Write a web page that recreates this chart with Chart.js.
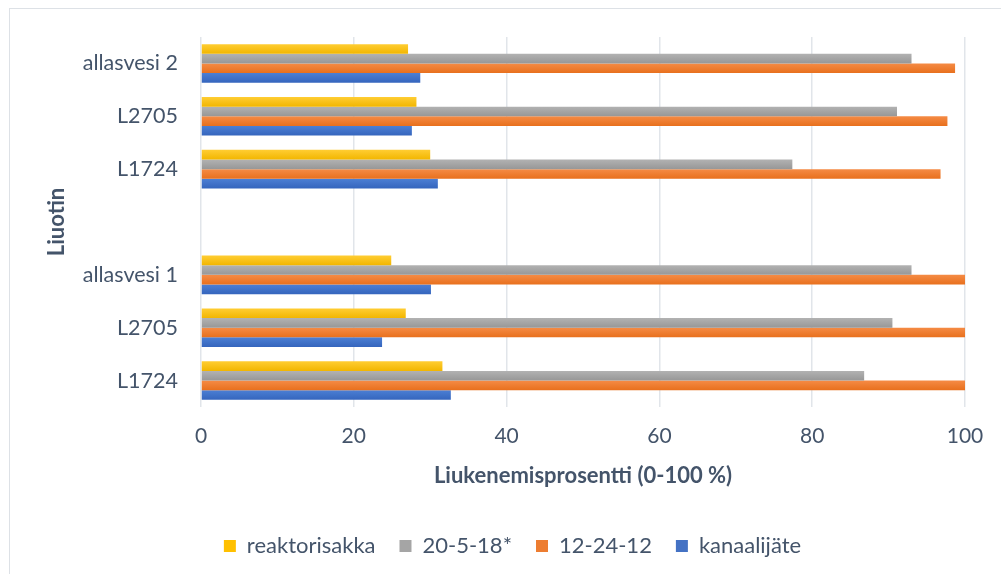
<!DOCTYPE html>
<html>
<head>
<meta charset="utf-8">
<script src="https://cdn.jsdelivr.net/npm/chart.js@4.4.1/dist/chart.umd.min.js"></script>
<style>
  html, body { margin: 0; padding: 0; background: #ffffff; }
  #wrap { position: relative; width: 1001px; height: 574px; overflow: hidden; }
  #frame { position: absolute; left: 9px; top: 8px; width: 1100px; height: 700px;
           border: 1.5px solid #dde1e6; box-sizing: border-box; }
  canvas { position: absolute; left: 0; top: 0; }
</style>
</head>
<body>
<div id="wrap">
  <div id="frame"></div>
  <canvas id="c" width="1001" height="574"></canvas>
</div>
<script>
const categories = ['allasvesi 2', 'L2705', 'L1724', '', 'allasvesi 1', 'L2705', 'L1724'];
const seriesNames = ['reaktorisakka', '20-5-18*', '12-24-12', 'kanaalijäte'];
const reaktorisakka = [27.1, 28.2, 30.0, null, 24.9, 26.8, 31.6];
const s20_5_18 = [93.0, 91.1, 77.4, null, 93.0, 90.5, 86.8];
const s12_24_12 = [98.7, 97.7, 96.8, null, 100, 100, 100];
const kanaalijate = [28.7, 27.6, 31.0, null, 30.1, 23.7, 32.7];
const xTicks = [0, 20, 40, 60, 80, 100];

const seriesValues = [reaktorisakka, s20_5_18, s12_24_12, kanaalijate];
const solid = ['#ffc000', '#a5a5a5', '#ed7d31', '#4472c4'];
const gradTop = ['#ffcd33', '#b2b2b2', '#f58b45', '#4c7fd4'];
const gradBot = ['#f2b600', '#979797', '#e8701d', '#3565bd'];
const CAT_PCT = 0.73;
const TEXT = '#44546a';
const FONT = 'Lato, "Open Sans", sans-serif';

function barFill(di) {
  return function (ctx) {
    const chart = ctx.chart;
    const ys = chart.scales && chart.scales.y;
    if (!ys || ctx.type !== 'data' || !ys.height) return solid[di];
    const center = ys.getPixelForValue(ctx.dataIndex);
    const catH = ys.height / categories.length;
    const groupH = catH * CAT_PCT;
    const barH = groupH / seriesNames.length;
    const top = center - groupH / 2 + di * barH;
    const g = chart.ctx.createLinearGradient(0, top, 0, top + barH);
    g.addColorStop(0, gradTop[di]);
    g.addColorStop(1, gradBot[di]);
    return g;
  };
}

const datasets = seriesNames.map((name, i) => ({
  label: name,
  data: seriesValues[i],
  backgroundColor: barFill(i),
  borderWidth: 0,
  categoryPercentage: CAT_PCT,
  barPercentage: 1.0
}));

const shiftLegend = {
  id: 'shiftLegend',
  afterLayout(chart) {
    const lg = chart.legend;
    if (lg) { lg.left += 25; lg.right += 25; }
  }
};

new Chart(document.getElementById('c'), {
  type: 'bar',
  data: { labels: categories, datasets: datasets },
  plugins: [shiftLegend],
  options: {
    indexAxis: 'y',
    responsive: false,
    animation: false,
    layout: { padding: { top: 37, right: 36, left: 10, bottom: 7 } },
    plugins: {
      tooltip: { enabled: false },
      legend: {
        position: 'bottom',
        labels: {
          boxWidth: 12,
          boxHeight: 12,
          padding: 24,
          color: TEXT,
          font: { family: FONT, size: 22 },
          generateLabels(chart) {
            return chart.data.datasets.map((ds, i) => ({
              text: ds.label,
              fillStyle: solid[i],
              strokeStyle: solid[i],
              lineWidth: 0,
              hidden: false,
              datasetIndex: i,
              fontColor: TEXT
            }));
          }
        }
      }
    },
    scales: {
      x: {
        min: 0,
        max: 100,
        afterBuildTicks(scale) { scale.ticks = xTicks.map(v => ({ value: v })); },
        afterFit(scale) { scale.height = 104; },
        grid: { color: '#e1e5ea', lineWidth: 1.5, drawTicks: false },
        border: { display: false },
        ticks: { padding: 17, color: TEXT, font: { family: FONT, size: 21 } },
        title: {
          display: true,
          text: 'Liukenemisprosentti (0-100 %)',
          color: TEXT,
          font: { family: FONT, size: 22, weight: 'bold' },
          padding: { top: 0, bottom: 22 }
        }
      },
      y: {
        afterFit(scale) { scale.width = 191; },
        grid: { display: false, drawTicks: false },
        border: { display: false },
        ticks: { padding: 23, color: TEXT, font: { family: FONT, size: 21.5 } },
        title: {
          display: true,
          text: 'Liuotin',
          color: TEXT,
          font: { family: FONT, size: 22, weight: 'bold' },
          padding: { top: 34, bottom: 0 }
        }
      }
    }
  }
});
</script>
</body>
</html>
